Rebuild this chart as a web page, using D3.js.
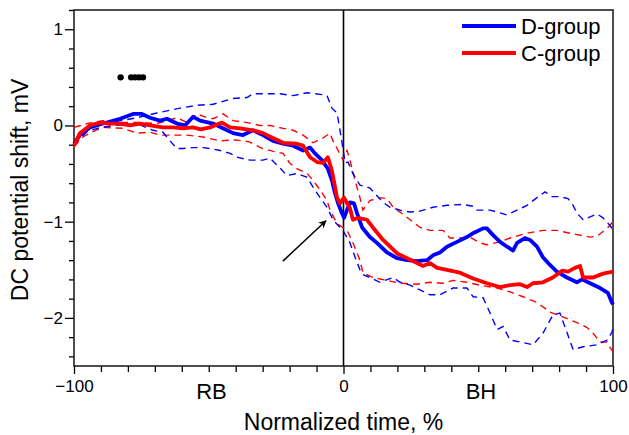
<!DOCTYPE html>
<html>
<head>
<meta charset="utf-8">
<script src="https://cdn.jsdelivr.net/npm/d3@7/dist/d3.min.js"></script>
<style>
  body { margin: 0; background: #fff; }
  text { font-family: "Liberation Sans", Arial, sans-serif; fill: #000; }
</style>
</head>
<body>
<div id="chart"></div>
<script>
// time (%) vs DC potential shift (mV)
const dMean = [[-100,-0.19],[-97.8,-0.10],[-94.1,-0.02],[-89.2,0.02],[-82.9,0.07],[-78.1,0.12],[-74.8,0.12],[-71.8,0.08],[-68.1,0.05],[-65.5,0.07],[-61.8,0.02],[-58.8,0.0],[-55.8,0.09],[-53.2,0.05],[-48.4,0.02],[-43.2,-0.05],[-41,-0.08],[-37.3,-0.10],[-33.6,-0.05],[-29.9,-0.10],[-26.2,-0.16],[-22.4,-0.19],[-18.7,-0.21],[-15,-0.26],[-12.4,-0.23],[-10.6,-0.29],[-8,-0.36],[-5.8,-0.45],[-4.3,-0.57],[-3.2,-0.70],[-2,-0.81],[-0.6,-0.91],[0.2,-0.96],[1.3,-0.88],[2.4,-0.80],[3.9,-0.81],[5,-0.91],[6.9,-1.06],[9.8,-1.16],[12.4,-1.22],[16.1,-1.32],[19.9,-1.38],[23.6,-1.40],[27.3,-1.41],[31,-1.40],[33.2,-1.35],[35.8,-1.32],[38.4,-1.26],[42.1,-1.21],[45.8,-1.16],[48.1,-1.12],[51.8,-1.07],[53.2,-1.07],[55.5,-1.14],[58.1,-1.21],[60.7,-1.26],[62.9,-1.30],[64.4,-1.22],[67.3,-1.17],[69.2,-1.19],[71.8,-1.26],[74,-1.37],[76.6,-1.45],[79.2,-1.52],[82.9,-1.58],[86.6,-1.63],[88.5,-1.60],[91.5,-1.64],[95.2,-1.69],[98.1,-1.74],[99.6,-1.84],[100,-1.86]];

const cMean = [[-100,-0.21],[-97.8,-0.08],[-94.1,0],[-90.4,0.03],[-86.6,0.02],[-82.9,0.02],[-79.2,0],[-75.5,0.02],[-71.8,0],[-67,-0.02],[-63.3,-0.02],[-59.6,-0.03],[-55.8,-0.02],[-53,-0.04],[-49.5,-0.02],[-45.1,0.03],[-42.1,-0.02],[-38.4,-0.03],[-33.6,-0.05],[-29.9,-0.08],[-26.2,-0.13],[-22.4,-0.18],[-17.3,-0.19],[-15,-0.21],[-12.4,-0.33],[-9.8,-0.38],[-7.6,-0.39],[-5.8,-0.33],[-4.3,-0.47],[-2.4,-0.75],[-1.3,-0.81],[0.2,-0.75],[2.4,-0.86],[3.5,-0.98],[5.4,-0.96],[8.7,-0.98],[10.9,-1.06],[14.7,-1.19],[17.3,-1.26],[19.9,-1.33],[23.6,-1.38],[27.3,-1.43],[29.5,-1.46],[32.1,-1.43],[34.7,-1.48],[38.4,-1.50],[43.2,-1.53],[48.1,-1.59],[53.2,-1.64],[58.1,-1.68],[61.8,-1.66],[65.5,-1.65],[68.1,-1.68],[70.3,-1.64],[74,-1.63],[77.7,-1.58],[81.1,-1.51],[83.3,-1.52],[85.9,-1.48],[87.8,-1.46],[88.9,-1.58],[92.6,-1.58],[96.3,-1.54],[100,-1.52]];

const dUpper = [[-100,-0.17],[-97,-0.08],[-93,0],[-86.6,0.03],[-76.6,0.08],[-69.2,0.13],[-60.7,0.18],[-54.4,0.21],[-48.4,0.22],[-41,0.28],[-35.8,0.29],[-33.6,0.33],[-28.4,0.33],[-23.6,0.33],[-18.7,0.31],[-13.5,0.34],[-7.6,0.32],[-6.1,0.31],[-4.3,0.18],[-2.4,0.13],[-1.3,-0.05],[-0.2,-0.24],[0.6,-0.39],[1.7,-0.38],[3.5,-0.50],[6.1,-0.62],[9.8,-0.65],[12.4,-0.73],[14.7,-0.80],[17.3,-0.85],[21,-0.88],[24.7,-0.90],[28.4,-0.89],[33.2,-0.85],[38.4,-0.83],[44.3,-0.82],[48.1,-0.84],[49.5,-0.88],[54.4,-0.88],[60.7,-0.93],[64.4,-0.88],[68.1,-0.83],[71.8,-0.75],[74.8,-0.69],[77.4,-0.74],[80.3,-0.74],[83.3,-0.76],[85.2,-0.83],[86.6,-0.91],[88.9,-0.98],[94.1,-0.92],[96.3,-0.96],[98.9,-1.04],[100,-1.09]];

const dLower = [[-100,-0.20],[-95,-0.06],[-90,-0.02],[-85,0],[-80,0.01],[-76.6,0.02],[-70.7,-0.05],[-67,-0.07],[-64.4,-0.16],[-61.8,-0.24],[-59.6,-0.24],[-55.8,-0.23],[-52.1,-0.23],[-49.5,-0.24],[-45.8,-0.26],[-42.1,-0.29],[-39.5,-0.33],[-34.7,-0.36],[-29.9,-0.36],[-27.3,-0.34],[-23.6,-0.44],[-21,-0.52],[-17.3,-0.50],[-13.5,-0.54],[-11.3,-0.64],[-8.7,-0.75],[-6.1,-0.85],[-3.9,-0.98],[-1.3,-1.06],[-0.2,-1.09],[2.4,-1.22],[4.3,-1.37],[6.1,-1.50],[7.2,-1.55],[9.8,-1.58],[13.5,-1.63],[18.4,-1.58],[21,-1.63],[24.7,-1.66],[28.4,-1.71],[32.1,-1.76],[35.8,-1.76],[40.6,-1.69],[45.8,-1.69],[48.1,-1.78],[51.8,-1.79],[54.4,-1.95],[57,-2.12],[59.2,-2.09],[61.8,-2.23],[65.5,-2.25],[70.3,-2.28],[74,-2.16],[77.7,-1.97],[80.3,-1.95],[82.9,-2.15],[85.2,-2.33],[88.9,-2.30],[94.1,-2.28],[97.8,-2.23],[99.6,-2.15],[100,-2.10]];

const cUpper = [[-100,-0.02],[-95,0.02],[-89.2,0.05],[-82.9,0.03],[-76.6,0.03],[-69.2,0.02],[-61.8,0.08],[-58.1,0.03],[-54.4,0.12],[-50.6,0.08],[-48.4,0.07],[-44.7,0.12],[-41,0.05],[-35.8,0.03],[-31,0],[-27.3,0],[-22.4,-0.03],[-18.7,-0.05],[-15,-0.10],[-11.3,-0.18],[-7.6,-0.13],[-5,-0.08],[-3.9,-0.16],[-2,-0.26],[-0.2,-0.36],[1.3,-0.26],[2.4,-0.36],[4.3,-0.57],[6.1,-0.75],[7.2,-0.88],[9.8,-0.78],[13.5,-0.75],[16.1,-0.76],[18.4,-0.85],[21,-0.90],[24.7,-0.98],[28.4,-1.06],[32.1,-1.09],[36.9,-1.09],[39.5,-1.17],[43.2,-1.17],[46.9,-1.16],[50.6,-1.22],[53.2,-1.24],[58.1,-1.21],[61.8,-1.17],[65.5,-1.14],[68.1,-1.12],[74,-1.09],[79.2,-1.09],[84,-1.12],[91.5,-1.16],[94.1,-1.15],[97.8,-1.07],[100,-1.0]];

const cLower = [[-100,-0.22],[-96.7,-0.12],[-92,-0.05],[-89.2,-0.02],[-81.8,-0.03],[-76.6,-0.08],[-71.8,-0.07],[-68.1,-0.10],[-64.4,-0.10],[-58.1,-0.10],[-52.1,-0.12],[-45.8,-0.16],[-40,-0.15],[-35,-0.17],[-30,-0.24],[-26,-0.27],[-22.4,-0.29],[-20,-0.39],[-17.3,-0.45],[-13.5,-0.50],[-11.3,-0.57],[-8.7,-0.67],[-6.1,-0.78],[-5,-0.88],[-2.4,-1.02],[1.3,-1.09],[3.5,-1.22],[6.1,-1.40],[7.2,-1.53],[10.9,-1.58],[16.1,-1.61],[21,-1.64],[27.3,-1.65],[32.1,-1.63],[36.9,-1.64],[40.6,-1.61],[45.8,-1.63],[50.6,-1.66],[57,-1.69],[61.8,-1.73],[66.6,-1.78],[71.8,-1.84],[76.6,-1.94],[81.4,-1.99],[86.6,-2.05],[90.4,-2.10],[92.6,-2.16],[95.2,-2.25],[97.8,-2.25],[98.9,-2.31],[100,-2.35]];

// significance markers at 0.5 mV
const sigTimes = [-82.7, -78.8, -77.4, -75.9, -74.4];
const sigLevel = 0.5;

const xTicks = d3.range(-100, 101, 10);
const xLabels = [-100, 0, 100];
const yTicks = d3.range(-12, 7).map(i => i / 5);
const yLabels = [-2, -1, 0, 1];
const phaseLabels = [{text: "RB", t: -49}, {text: "BH", t: 51}];
const legendItems = [{name: "D-group", color: "#0000ff"}, {name: "C-group", color: "#ff0000"}];
const arrowFrom = [-22.5, -1.41];
const arrowTo = [-6.5, -0.99];

const width = 629;
const height = 435;
const margin = {top: 10, right: 16, bottom: 69, left: 74};
const w = width - margin.left - margin.right;
const h = height - margin.top - margin.bottom;

const svg = d3.select("#chart").append("svg")
    .attr("width", width)
    .attr("height", height);

const g = svg.append("g")
    .attr("transform", `translate(${margin.left},${margin.top})`);

const x = d3.scaleLinear().domain([-100, 100]).range([0, w]);
const y = d3.scaleLinear().domain([-2.5, 1.2]).range([h, 0]);

const isMajor = (v, list) => list.some(m => Math.abs(m - v) < 1e-6);

// x axis
const xAxis = g.append("g")
    .attr("transform", `translate(0,${h})`)
    .call(d3.axisBottom(x).tickValues(xTicks).tickSize(6).tickPadding(8)
        .tickFormat(d => isMajor(d, xLabels) ? d3.format("d")(d) : ""));
xAxis.select(".domain").remove();
xAxis.selectAll(".tick line").attr("stroke", "#000").attr("stroke-width", 1.3)
    .attr("y2", d => isMajor(d, xLabels) ? 8 : 6);
xAxis.selectAll(".tick text").style("font-size", "17px").attr("dy", "0.72em");

// y axis
const yAxis = g.append("g")
    .call(d3.axisLeft(y).tickValues(yTicks).tickSize(5).tickPadding(3)
        .tickFormat(d => isMajor(d, yLabels) ? d3.format("d")(Math.round(d)) : ""));
yAxis.select(".domain").remove();
yAxis.selectAll(".tick line").attr("stroke", "#000").attr("stroke-width", 1.3)
    .attr("x2", d => isMajor(d, yLabels) ? -9 : -5);
yAxis.selectAll(".tick text").style("font-size", "17px")
    .attr("x", -11);

// frame
g.append("rect")
    .attr("width", w)
    .attr("height", h)
    .attr("fill", "none")
    .attr("stroke", "#222")
    .attr("stroke-width", 1.6);

// vertical line at 0
g.append("line")
    .attr("x1", x(0)).attr("x2", x(0))
    .attr("y1", 0).attr("y2", h)
    .attr("stroke", "#000")
    .attr("stroke-width", 1.6);

const line = d3.line()
    .x(d => x(d[0]))
    .y(d => y(d[1]));

// SD bounds (dashed)
[[cUpper, "#ff0000"], [cLower, "#ff0000"], [dUpper, "#0000ff"], [dLower, "#0000ff"]].forEach(function(s) {
    g.append("path")
        .datum(s[0])
        .attr("d", line)
        .attr("fill", "none")
        .attr("stroke", s[1])
        .attr("stroke-width", 1.4)
        .attr("stroke-dasharray", "7,5");
});

// means
[[dMean, "#0000ff"], [cMean, "#ff0000"]].forEach(function(s) {
    g.append("path")
        .datum(s[0])
        .attr("d", line)
        .attr("fill", "none")
        .attr("stroke", s[1])
        .attr("stroke-width", 3.8)
        .attr("stroke-linejoin", "round");
});

// significance dots
g.selectAll("circle.sig")
    .data(sigTimes)
    .enter().append("circle")
    .attr("class", "sig")
    .attr("cx", d => x(d))
    .attr("cy", y(sigLevel))
    .attr("r", 3.2)
    .attr("fill", "#000");

// arrow
svg.append("defs").append("marker")
    .attr("id", "arrowhead")
    .attr("viewBox", "0 0 10 10")
    .attr("refX", 9).attr("refY", 5)
    .attr("markerWidth", 8).attr("markerHeight", 8)
    .attr("markerUnits", "userSpaceOnUse")
    .attr("orient", "auto")
    .append("path")
    .attr("d", "M0,0 L10,5 L0,10 L3,5 Z")
    .attr("fill", "#000");

g.append("line")
    .attr("x1", x(arrowFrom[0])).attr("y1", y(arrowFrom[1]))
    .attr("x2", x(arrowTo[0])).attr("y2", y(arrowTo[1]))
    .attr("stroke", "#000")
    .attr("stroke-width", 1.5)
    .attr("marker-end", "url(#arrowhead)");

// phase labels
g.selectAll("text.phase")
    .data(phaseLabels)
    .enter().append("text")
    .attr("class", "phase")
    .attr("x", d => x(d.t))
    .attr("y", h + 33)
    .attr("text-anchor", "middle")
    .style("font-size", "22px")
    .text(d => d.text);

// axis titles
svg.append("text")
    .attr("x", margin.left + x(0))
    .attr("y", 430)
    .attr("text-anchor", "middle")
    .style("font-size", "23px")
    .text("Normalized time, %");

svg.append("text")
    .attr("transform", `translate(28,${margin.top + h / 2 + 2}) rotate(-90)`)
    .attr("text-anchor", "middle")
    .style("font-size", "23px")
    .text("DC potential shift, mV");

// legend
const legend = svg.append("g")
    .attr("transform", "translate(462,26)");
legendItems.forEach(function(item, i) {
    legend.append("line")
        .attr("x1", 0).attr("x2", 54)
        .attr("y1", i * 27).attr("y2", i * 27)
        .attr("stroke", item.color)
        .attr("stroke-width", 4);
    legend.append("text")
        .attr("x", 59)
        .attr("y", i * 27 + 8)
        .style("font-size", "22px")
        .text(item.name);
});
</script>
</body>
</html>
